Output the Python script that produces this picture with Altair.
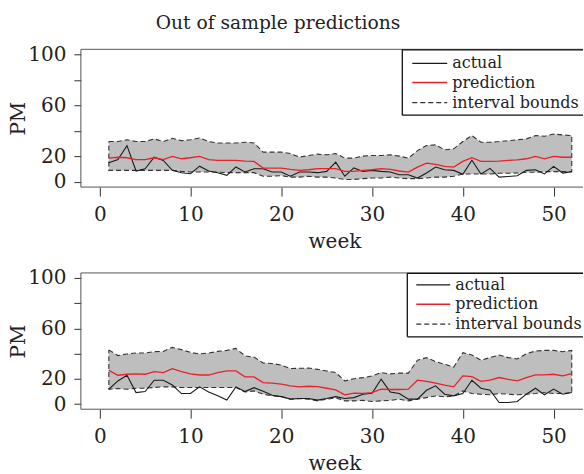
import altair as alt
import pandas as pd

weeks = list(range(1, 53))

actual_top = [15.0, 17.6, 28.5, 8.6, 10.4, 19.4, 16.9, 9.1, 7.3, 6.5,
              12.4, 8.6, 7.3, 5.2, 11.8, 7.9, 10.4, 10.4, 7.8, 7.8,
              4.5, 7.8, 7.8, 7.3, 8.3, 15.6, 4.5, 11.0, 8.3, 9.1,
              8.3, 7.8, 5.7, 5.7, 3.1, 7.0, 11.7, 9.6, 9.1, 6.0,
              17.1, 6.3, 10.7, 3.8, 4.3, 4.9, 9.1, 9.6, 6.3, 12.2,
              7.0, 8.1]
pred_top = [18.7, 19.4, 19.0, 17.6, 17.6, 19.0, 17.6, 20.0, 18.2, 19.0,
            20.0, 17.6, 16.9, 16.9, 16.9, 16.4, 16.1, 10.9, 10.9, 10.9,
            9.9, 9.1, 9.6, 10.4, 10.4, 10.4, 8.3, 8.3, 9.1, 9.6,
            10.4, 9.9, 8.6, 7.8, 11.7, 14.8, 13.8, 12.2, 11.7, 16.1,
            19.0, 16.1, 16.1, 16.4, 16.9, 17.4, 18.2, 20.0, 18.2, 20.0,
            19.4, 19.4]
lower_top = [9.1, 9.1, 9.1, 9.1, 9.1, 9.1, 9.1, 9.1, 8.3, 7.8,
             7.8, 7.8, 7.8, 7.3, 7.3, 7.3, 7.3, 4.5, 4.5, 5.0,
             3.8, 3.8, 4.5, 3.8, 3.8, 3.1, 2.0, 2.0, 2.6, 3.1,
             3.1, 3.8, 3.1, 2.6, 2.6, 3.1, 3.8, 3.8, 4.5, 6.3,
             6.3, 6.3, 6.3, 6.8, 6.8, 7.0, 7.6, 7.6, 8.1, 8.1,
             8.1, 8.1]
upper_top = [31.7, 31.7, 33.1, 31.7, 31.7, 33.8, 31.7, 34.3, 32.4, 33.1,
             34.5, 31.7, 30.6, 30.6, 30.6, 31.2, 30.6, 23.4, 23.4, 23.4,
             22.3, 19.5, 20.8, 21.8, 21.3, 22.3, 18.7, 18.7, 20.3, 20.8,
             20.8, 21.3, 20.3, 18.7, 24.6, 28.6, 29.1, 25.2, 26.0, 31.7,
             36.4, 31.2, 31.2, 31.7, 32.4, 33.1, 33.8, 36.4, 35.9, 37.6,
             36.9, 36.4]

actual_bot = [11.8, 18.4, 22.9, 9.2, 10.0, 19.0, 19.0, 15.2, 8.4, 8.4,
              13.7, 9.7, 6.6, 3.2, 13.7, 10.0, 13.1, 10.3, 7.0, 6.0,
              4.0, 4.5, 4.5, 3.2, 4.5, 6.0, 4.5, 5.2, 7.9, 8.7,
              19.7, 9.7, 8.4, 4.0, 4.0, 11.0, 14.5, 7.9, 6.6, 8.4,
              18.9, 12.6, 11.0, 1.3, 1.3, 2.1, 7.9, 12.6, 7.4, 11.9,
              7.9, 9.2]
pred_bot = [26.8, 22.9, 23.7, 24.0, 23.7, 25.8, 25.0, 28.1, 25.8, 24.0,
            23.1, 23.1, 25.0, 26.3, 26.3, 21.6, 21.6, 17.1, 16.6, 15.8,
            14.5, 13.7, 14.2, 13.9, 12.6, 11.3, 7.4, 8.7, 8.5, 9.2,
            11.9, 11.6, 11.6, 11.9, 19.0, 18.0, 16.6, 15.0, 13.7, 22.4,
            21.8, 18.0, 19.0, 21.1, 19.7, 18.4, 21.1, 23.2, 23.2, 23.7,
            22.4, 24.2]
lower_bot = [11.8, 12.3, 11.8, 12.6, 12.6, 13.2, 13.7, 13.7, 13.2, 13.2,
             13.2, 13.2, 13.2, 13.2, 13.2, 9.7, 10.5, 7.9, 6.6, 6.0,
             3.9, 4.5, 3.9, 2.6, 3.9, 5.0, 2.6, 2.6, 3.0, 2.1,
             2.6, 3.0, 3.9, 2.6, 4.0, 5.2, 6.5, 5.8, 6.5, 10.5,
             8.4, 7.9, 7.4, 8.4, 7.9, 7.4, 7.9, 8.4, 9.2, 8.4,
             8.4, 9.2]
upper_bot = [43.0, 38.5, 39.8, 40.5, 40.5, 41.6, 41.8, 45.0, 43.2, 41.0,
             39.8, 40.5, 41.8, 42.6, 44.2, 38.2, 37.3, 32.6, 32.2, 31.0,
             28.2, 28.4, 28.6, 27.6, 26.3, 25.0, 18.4, 20.2, 21.0, 22.3,
             25.0, 24.0, 24.6, 24.6, 34.8, 36.9, 33.7, 31.6, 29.4, 40.8,
             38.9, 34.8, 36.9, 38.9, 36.9, 35.8, 40.0, 42.1, 42.6, 42.6,
             41.6, 42.6]

x_ticks = [0, 10, 20, 30, 40, 50]
y_ticks = [0, 20, 40, 60, 80, 100]
legend_labels = ["actual", "prediction", "interval bounds"]
title_text = "Out of sample predictions"
x_title = "week"
y_title = "PM"

FONT = "DejaVu Serif"
W = 503
X_DOMAIN = [-2.08, 53.24]
Y_DOMAIN = [-4, 104]
TXT = "#222222"


def panel(actual, pred, lower, upper, H, leg):
    df = pd.DataFrame({"week": weeks, "actual": actual, "pred": pred,
                       "lower": lower, "upper": upper})
    poly = pd.DataFrame({
        "week": weeks + weeks[::-1] + [weeks[0]],
        "v": upper + lower[::-1] + [upper[0]],
    })
    poly["o"] = range(len(poly))

    xaxis = alt.Axis(values=x_ticks, tickSize=9, tickColor="#333333", tickWidth=1,
                     domain=False, grid=False, labelFont=FONT, labelFontSize=20,
                     labelColor=TXT, labelPadding=24, labelBaseline="alphabetic",
                     labelFlush=False, titleFont=FONT, titleFontSize=20,
                     titleFontWeight="normal", titleColor=TXT, titleX=254,
                     titleY=60.5, titleBaseline="alphabetic", titleAlign="center")
    yaxis = alt.Axis(values=y_ticks,
                     labelExpr="datum.value == 40 || datum.value == 80 ? '' : datum.label",
                     tickSize=7, tickColor="#333333", tickWidth=1, domain=False,
                     grid=False, labelFont=FONT, labelFontSize=20, labelColor=TXT,
                     labelPadding=8, labelBaseline="middle", titleFont=FONT,
                     titleFontSize=20, titleFontWeight="normal", titleColor=TXT,
                     titleAngle=270, titleX=-56, titleY=H / 2,
                     titleAlign="center", titleBaseline="alphabetic")
    xs = alt.Scale(domain=X_DOMAIN, nice=False, zero=False)
    ys = alt.Scale(domain=Y_DOMAIN, nice=False, zero=False)

    def X(f="week"):
        return alt.X(f + ":Q", scale=xs, axis=xaxis, title=x_title)

    def Y(f):
        return alt.Y(f + ":Q", scale=ys, axis=yaxis, title=y_title)

    base = alt.Chart(df)
    band = base.mark_area(color="#BEBEBE", opacity=1).encode(
        x=X(), y=Y("lower"), y2="upper:Q")
    outline = alt.Chart(poly).mark_line(color="#333333", strokeWidth=1.1,
                                        strokeDash=[5, 3]).encode(
        x=X(), y=Y("v"), order="o:Q")
    act = base.mark_line(color="#1a1a1a", strokeWidth=1.1).encode(x=X(), y=Y("actual"))
    prd = base.mark_line(color="#E8212B", strokeWidth=1.3).encode(x=X(), y=Y("pred"))

    one = pd.DataFrame({"a": [0]})
    fr = "#555555"
    frame_top = alt.Chart(one).mark_rule(color=fr, strokeWidth=1).encode(
        x=alt.value(0), x2=alt.value(W), y=alt.value(0))
    frame_bot = alt.Chart(one).mark_rule(color=fr, strokeWidth=1).encode(
        x=alt.value(0), x2=alt.value(W), y=alt.value(H))
    frame_left = alt.Chart(one).mark_rule(color=fr, strokeWidth=1).encode(
        x=alt.value(0), y=alt.value(0), y2=alt.value(H))

    lx, lb, l1, l2, tx, ys_ = leg
    box_col = "#111111"
    layers = [band, outline, act, prd, frame_top, frame_bot, frame_left]
    layers.append(alt.Chart(one).mark_rule(color=box_col, strokeWidth=1.3).encode(
        x=alt.value(lx), y=alt.value(0), y2=alt.value(lb)))
    layers.append(alt.Chart(one).mark_rule(color=box_col, strokeWidth=1.3).encode(
        x=alt.value(lx), x2=alt.value(W), y=alt.value(lb)))
    layers.append(alt.Chart(one).mark_rule(color=box_col, strokeWidth=1.3).encode(
        x=alt.value(lx), x2=alt.value(W), y=alt.value(0.5)))
    styles = [("#1a1a1a", None, 1.3), ("#E8212B", None, 1.4), ("#333333", [5, 3], 1.3)]
    for lab, yy, (col, dash, sw) in zip(legend_labels, ys_, styles):
        kw = dict(color=col, strokeWidth=sw)
        if dash:
            kw["strokeDash"] = dash
        layers.append(alt.Chart(one).mark_rule(**kw).encode(
            x=alt.value(l1), x2=alt.value(l2), y=alt.value(yy)))
        layers.append(alt.Chart(one).mark_text(
            font=FONT, fontSize=16, color=TXT, align="left", baseline="middle",
            clip=True).encode(x=alt.value(tx), y=alt.value(yy), text=alt.value(lab)))
    return alt.layer(*layers).properties(width=W, height=H)


top = panel(actual_top, pred_top, lower_top, upper_top, 138,
            (322, 66, 332, 367, 372, [14, 33.3, 53.3])).properties(
    title=alt.TitleParams(title_text, font=FONT, fontSize=18.7, fontWeight="normal",
                          color=TXT, anchor="middle", dx=-54, offset=12))
bot = panel(actual_bot, pred_bot, lower_bot, upper_bot, 136.5,
            (327, 64, 336, 370, 375, [12, 31.3, 51.3]))

chart = alt.vconcat(top, bot, spacing=16).properties(
    padding={"left": 9, "top": 13, "right": 0, "bottom": 0}
).configure_view(stroke=None)

chart.save("out.html", embed_options={"renderer": "svg", "actions": False})
